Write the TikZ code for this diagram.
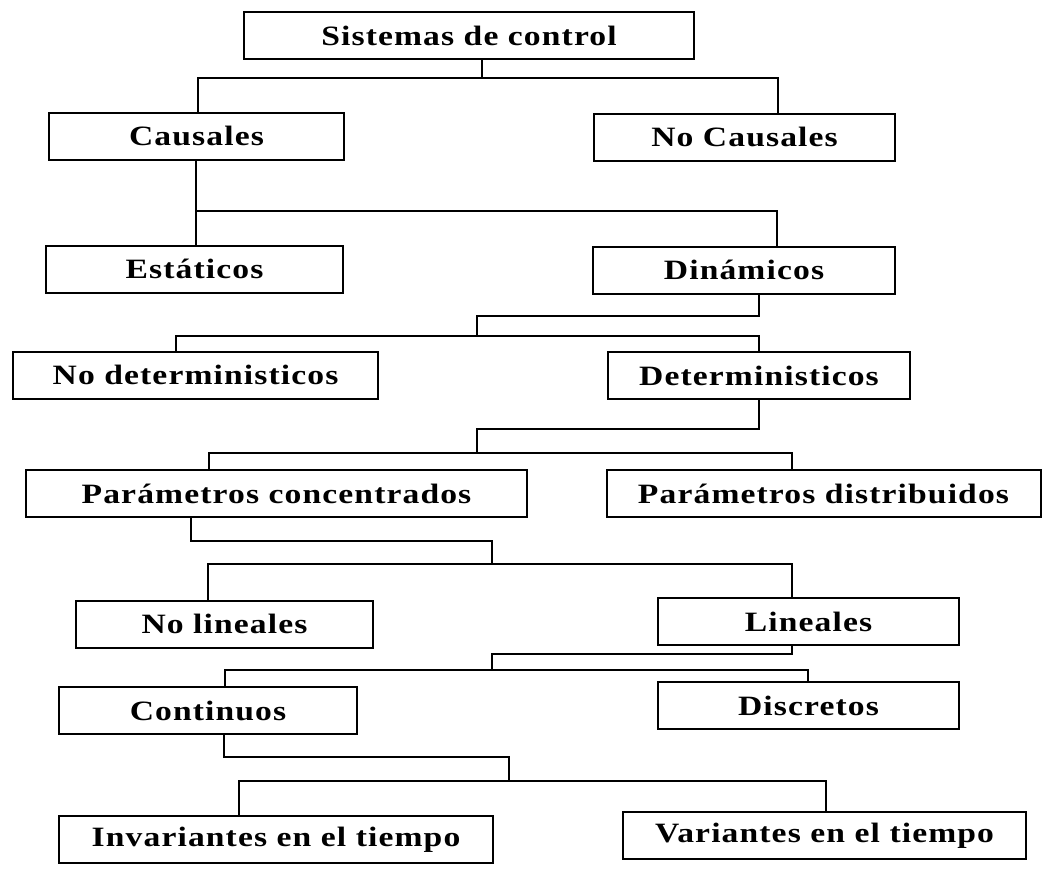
\documentclass[tikz,border=0pt]{standalone}
\usepackage{fontspec}
\setmainfont{Liberation Serif}
\newfontfamily\cajafont[FakeStretch=1.2,LetterSpace=4]{Liberation Serif}
\usepackage{tikz}

\begin{document}
\begin{tikzpicture}[x=0.5pt,y=-0.5pt,
    caja/.style={draw,line width=1pt,minimum height=23.5pt,inner sep=0pt,
                 font=\cajafont\fontsize{14}{16}\selectfont\bfseries},
    rama/.style={draw,line width=0.9pt}]
\useasboundingbox (0,0) rectangle (1042,868);
\begin{scope}[every node/.style={caja}]
    \node[minimum width=225pt]   (sist)   at (469,35.5)   {Sistemas de control};
    \node[minimum width=147.5pt] (caus)   at (196.5,136)  {Causales};
    \node[minimum width=150.5pt] (nocaus) at (744.5,137)  {No Causales};
    \node[minimum width=148.5pt] (estat)  at (194.5,269)  {Estáticos};
    \node[minimum width=151pt]   (dinam)  at (744,270)    {Dinámicos};
    \node[minimum width=182.5pt] (nodet)  at (195.5,375)  {No deterministicos};
    \node[minimum width=151pt]   (det)    at (759,375.5)  {Deterministicos};
    \node[minimum width=250.5pt] (parcon) at (276.5,493.5) {Parámetros concentrados};
    \node[minimum width=217pt]   (pardis) at (823.5,493.5) {Parámetros distribuidos};
    \node[minimum width=148.5pt] (nolin)  at (224.5,624)  {No lineales};
    \node[minimum width=150.5pt] (lin)    at (808.5,621.5) {Lineales};
    \node[minimum width=149pt]   (cont)   at (208,710.5)  {Continuos};
    \node[minimum width=150.5pt] (disc)   at (808.5,705.5) {Discretos};
    \node[minimum width=217pt]   (invar)  at (276,839.5)  {Invariantes en el tiempo};
    \node[minimum width=201.5pt] (var)    at (824.5,835.5) {Variantes en el tiempo};
\end{scope}
\begin{scope}[every path/.style={rama}]
    % sistemas
    \coordinate (a1) at (482,78);
    \coordinate (l1) at (198,78);
    \coordinate (r1) at (778,78);
    \path (sist.south -| a1) -- (a1);
    \path (caus.north -| l1) -- (l1) -- (r1) -- (nocaus.north -| r1);
    % causales
    \coordinate (l2) at (196,211);
    \coordinate (r2) at (777,211);
    \path (caus.south -| l2) -- (estat.north -| l2);
    \path (l2) -- (r2) -- (dinam.north -| r2);
    % dinamicos
    \coordinate (s3) at (759,316);
    \coordinate (a3) at (477,316);
    \coordinate (l3) at (176,336);
    \coordinate (r3) at (759,336);
    \path (dinam.south -| s3) -- (s3) -- (a3) -- (a3 |- l3);
    \path (nodet.north -| l3) -- (l3) -- (r3) -- (det.north -| r3);
    % deterministicos
    \coordinate (s4) at (759,429);
    \coordinate (a4) at (477,429);
    \coordinate (l4) at (209,453);
    \coordinate (r4) at (792,453);
    \path (det.south -| s4) -- (s4) -- (a4) -- (a4 |- l4);
    \path (parcon.north -| l4) -- (l4) -- (r4) -- (pardis.north -| r4);
    % parametros concentrados
    \coordinate (s5) at (191,541);
    \coordinate (a5) at (492,541);
    \coordinate (l5) at (208,564);
    \coordinate (r5) at (792,564);
    \path (parcon.south -| s5) -- (s5) -- (a5) -- (a5 |- l5);
    \path (nolin.north -| l5) -- (l5) -- (r5) -- (lin.north -| r5);
    % lineales
    \coordinate (s6) at (792,654);
    \coordinate (a6) at (492,654);
    \coordinate (l6) at (225,670);
    \coordinate (r6) at (808,670);
    \path (lin.south -| s6) -- (s6) -- (a6) -- (a6 |- l6);
    \path (cont.north -| l6) -- (l6) -- (r6) -- (disc.north -| r6);
    % continuos
    \coordinate (s7) at (224,757);
    \coordinate (a7) at (509,757);
    \coordinate (l7) at (239,781);
    \coordinate (r7) at (826,781);
    \path (cont.south -| s7) -- (s7) -- (a7) -- (a7 |- l7);
    \path (invar.north -| l7) -- (l7) -- (r7) -- (var.north -| r7);
\end{scope}
\end{tikzpicture}
\end{document}
